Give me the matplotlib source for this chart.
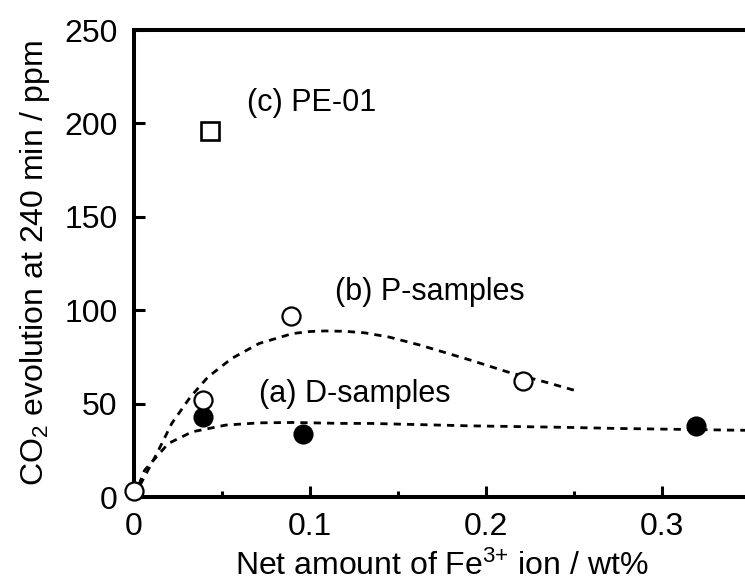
import numpy as np
import matplotlib
matplotlib.use('Agg')
import matplotlib.pyplot as plt
from matplotlib.ticker import MultipleLocator

plt.rcParams['font.family'] = ['Liberation Sans', 'DejaVu Sans']
plt.rcParams['mathtext.fontset'] = 'custom'
plt.rcParams['mathtext.rm'] = 'Liberation Sans'
plt.rcParams['mathtext.it'] = 'Liberation Sans'
plt.rcParams['mathtext.default'] = 'regular'

# measured points
d_x = [0.039, 0.096, 0.319]
d_y = [43, 34, 38]
p_x = [0.0, 0.039, 0.089, 0.221]
p_y = [3, 52, 97, 62]
pe_x = [0.043]
pe_y = [196]

# dashed guide curves
curve_a_x = [0.0, 0.006, 0.0195, 0.033, 0.052, 0.071, 0.09, 0.118, 0.134, 0.191, 0.245, 0.275, 0.34, 0.35]
curve_a_y = [0.0, 14.4, 28.7, 34.9, 38.5, 39.7, 39.9, 39.4, 39.4, 38.1, 37.3, 36.7, 35.8, 35.7]
curve_b_x = [0.0, 0.0034, 0.013, 0.0214, 0.032, 0.042, 0.0555, 0.071, 0.09, 0.1, 0.1085, 0.12, 0.131,
             0.145, 0.1625, 0.191, 0.212, 0.233, 0.251]
curve_b_y = [0.0, 6.4, 23.4, 39.4, 53.6, 64.3, 74.2, 82.2, 87.5, 88.6, 88.9, 88.7, 87.9,
             85.6, 81.3, 73.3, 67.0, 61.7, 56.9]

fig = plt.figure(figsize=(7.45, 5.85), dpi=100)
ax = fig.add_axes([0.180, 0.1504, 0.827, 0.7983])

dash = (0, (2.6, 2.2))
ax.plot(curve_a_x, curve_a_y, color='black', lw=2.0, linestyle=dash, zorder=2)
ax.plot(curve_b_x, curve_b_y, color='black', lw=2.0, linestyle=dash, zorder=2)

ax.plot(d_x, d_y, 'o', ms=13, mfc='black', mec='black', mew=1.5, zorder=3, clip_on=False)
ax.plot(p_x, p_y, 'o', ms=13, mfc='white', mec='black', mew=1.6, zorder=4, clip_on=False)
ax.plot(pe_x, pe_y, 's', ms=12.5, mfc='white', mec='black', mew=1.9, zorder=3)

ax.text(0.064, 211, '(c) PE-01', fontsize=22, va='center', ha='left')
ax.text(0.114, 110, '(b) P-samples', fontsize=22, va='center', ha='left')
ax.text(0.071, 55, '(a) D-samples', fontsize=22, va='center', ha='left')

ax.set_xlim(0, 0.35)
ax.set_ylim(0, 250)
ax.xaxis.set_major_locator(MultipleLocator(0.1))
ax.xaxis.set_minor_locator(MultipleLocator(0.05))
ax.yaxis.set_major_locator(MultipleLocator(50))
ax.set_xticks([0, 0.1, 0.2, 0.3])
ax.set_xticklabels(['0', '0.1', '0.2', '0.3'])

ax.tick_params(axis='both', which='major', direction='in', length=8, width=2.2,
               labelsize=23, pad=11)
ax.tick_params(axis='x', which='minor', direction='in', length=4.5, width=2.2)
ax.tick_params(axis='y', which='major', pad=12)
ax.tick_params(top=False, right=False)

for s in ['left', 'bottom', 'top']:
    ax.spines[s].set_linewidth(2.9)
ax.spines['right'].set_visible(False)

ax.set_xlabel('Net amount of Fe$^{3{+}}$ ion / wt%', fontsize=23, labelpad=6)
ax.set_ylabel('CO$_2$ evolution at 240 min / ppm', fontsize=23, labelpad=9)

fig.savefig('out.png', dpi=100)
